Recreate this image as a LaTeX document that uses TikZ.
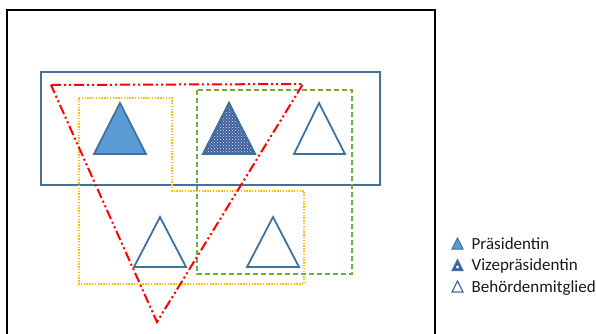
\documentclass[tikz,border=0pt]{standalone}
\usepackage{fontspec}
\setmainfont{Carlito}
\usetikzlibrary{patterns}
\definecolor{bstroke}{HTML}{41719C}
\definecolor{bfill}{HTML}{5B9BD5}
\definecolor{vfill}{HTML}{3E5F9C}
\definecolor{ylw}{HTML}{FFC000}
\definecolor{grn}{HTML}{70AD47}
\definecolor{txt}{HTML}{1A1A1A}
\begin{document}
\begin{tikzpicture}[x=1pt,y=-1pt,
  frame/.style={draw=black,line width=2},
  group/.style={draw=bstroke,line width=1.6},
  tri/.style={draw=bstroke,line width=1.8,line join=miter},
  pres/.style={tri,fill=bfill},
  vize/.style={tri,fill=vfill},
  memb/.style={tri,fill=none},
  yelbox/.style={draw=ylw,line width=1.4,dash pattern=on 1.4 off 1.4},
  grnbox/.style={draw=grn,line width=1.5,dash pattern=on 5 off 3},
  redtri/.style={draw=red,line width=2,dash pattern=on 10 off 3 on 2 off 3 on 2 off 3},
  legend/.style={anchor=base west,font=\fontsize{17}{19}\selectfont,text=txt,inner sep=0pt}]
\useasboundingbox (0,0) rectangle (596,333);
\clip (0,0) rectangle (596,333);
% outer frame
\draw[frame] (7,345) -- (7,10) -- (435,10) -- (435,345);
% blue group box
\draw[group] (41,72) rectangle (380,185);
% triangles
\draw[pres] (94,154) -- (120,103) -- (146,154) -- cycle;
\draw[vize] (203,154) -- (229,103) -- (255,154) -- cycle;
\fill[pattern=crosshatch dots,pattern color=white!80!bfill] (205,153) -- (229,106) -- (253,153) -- cycle;
\draw[tri] (203,154) -- (229,103) -- (255,154) -- cycle;
\draw[memb] (294,154) -- (319,103) -- (345,154) -- cycle;
\draw[memb] (134,267) -- (160,217) -- (186,267) -- cycle;
\draw[memb] (247,267) -- (273,217) -- (299,267) -- cycle;
% yellow dotted L-shaped group
\draw[yelbox] (79,98) -- (172,98) -- (172,191) -- (304,191) -- (304,284) -- (79,284) -- cycle;
% green dashed group
\draw[grnbox] (197,90) rectangle (352,274);
% red dash-dot triangle
\draw[redtri] (51,85) -- (303,84) -- (157,322) -- cycle;
% legend
\draw[pres,line width=1] (452,249) -- (457.5,238) -- (463,249) -- cycle;
\draw[vize,line width=1] (452,270.5) -- (457.5,259.5) -- (463,270.5) -- cycle;
\fill[white] (457.5,267) circle (1.6);
\draw[memb,line width=1.2] (452,292) -- (457.5,281) -- (463,292) -- cycle;
\node[legend] (l1) at (471.5,249) {Präsidentin};
\node[legend] (l2) at (471.5,270.5) {Vizepräsidentin};
\node[legend] (l3) at (471.5,292) {Behördenmitglied};
\end{tikzpicture}
\end{document}
